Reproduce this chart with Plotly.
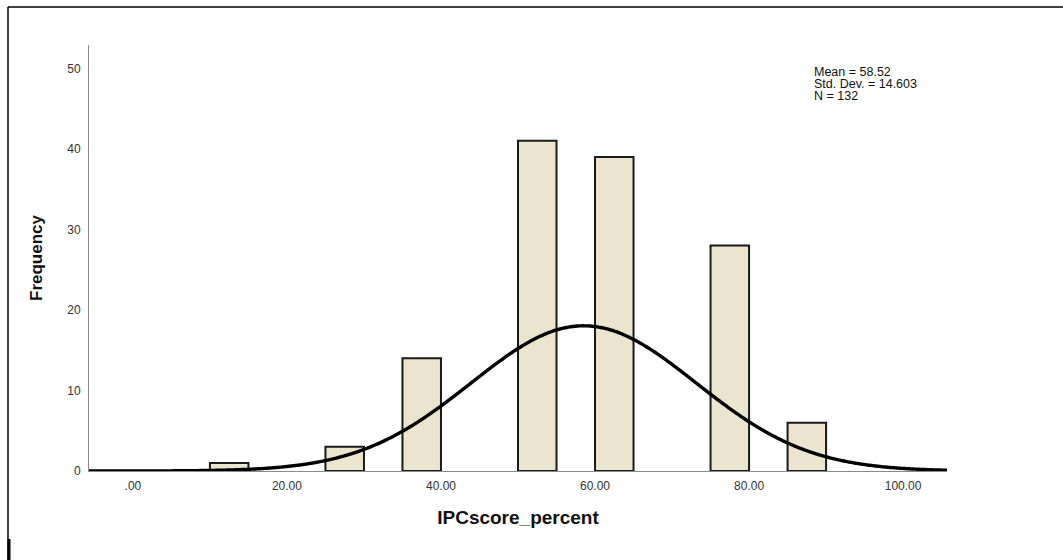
import numpy as np
import plotly.graph_objects as go

# Histogram data (bin start, bin end, frequency)
bin_starts = [10, 25, 35, 50, 60, 75, 85]
bin_ends = [15, 30, 40, 55, 65, 80, 90]
frequencies = [1, 3, 14, 41, 39, 28, 6]

x_tick_vals = [0, 20, 40, 60, 80, 100]
x_tick_text = [".00", "20.00", "40.00", "60.00", "80.00", "100.00"]
y_tick_vals = [0, 10, 20, 30, 40, 50]

mean_val = 58.52
std_val = 14.603
n_val = 132
bin_width = 5

x_range = [-5.7, 105.7]
y_range = [0, 52.9]

stats_lines = [f"Mean = {mean_val:.2f}", f"Std. Dev. = {std_val:.3f}", f"N = {n_val}"]

centers = [(a + b) / 2 for a, b in zip(bin_starts, bin_ends)]
widths = [b - a for a, b in zip(bin_starts, bin_ends)]

# Normal curve defined by the reported mean / SD / N
xc = np.linspace(x_range[0], x_range[1], 400)
yc = n_val * bin_width * np.exp(-0.5 * ((xc - mean_val) / std_val) ** 2) / (std_val * np.sqrt(2 * np.pi))

L, R, T, B = 89, 116, 45, 89
W, H = 1063, 560
pw = W - L - R
ph = H - T - B


def px_x(p):
    return (p - L) / pw


def px_y(p):
    return (H - B - p) / ph


fig = go.Figure()
fig.add_trace(go.Bar(
    x=centers, y=frequencies, width=widths,
    marker=dict(color="#ebe5cf", line=dict(color="#1a1a1a", width=2)),
    hoverinfo="x+y",
))
fig.add_trace(go.Scatter(
    x=xc, y=yc, mode="lines",
    line=dict(color="black", width=3.4, shape="spline"),
    hoverinfo="skip",
))

annotations = []
for i, line in enumerate(stats_lines):
    annotations.append(dict(
        x=px_x(812), y=px_y(72 + 12 * i), xref="paper", yref="paper", showarrow=False,
        text=line, align="left", xanchor="left", yanchor="middle",
        font=dict(size=12.5, color="#111111"),
    ))

fig.update_layout(
    width=W, height=H,
    margin=dict(l=L, r=R, t=T, b=B),
    paper_bgcolor="white", plot_bgcolor="white",
    showlegend=False,
    font=dict(family="Liberation Sans, Arial, sans-serif", color="#333333", size=12),
    xaxis=dict(
        range=x_range, tickvals=x_tick_vals, ticktext=x_tick_text,
        showgrid=False, zeroline=False, showline=True, linecolor="#8a8a8a", linewidth=1,
        ticks="outside", ticklen=4, tickcolor="rgba(0,0,0,0)",
        tickfont=dict(size=12, color="#333333"),
        title=dict(text="<b>IPCscore_percent</b>", font=dict(size=19, color="#111111"), standoff=18),
    ),
    yaxis=dict(
        range=y_range, tickvals=y_tick_vals,
        showgrid=False, zeroline=False, showline=True, linecolor="#8a8a8a", linewidth=1,
        ticks="outside", ticklen=5, tickcolor="rgba(0,0,0,0)",
        tickfont=dict(size=12, color="#333333"),
        title=dict(text="<b>Frequency</b>", font=dict(size=17, color="#111111"), standoff=20),
    ),
    annotations=annotations,
    shapes=[
        dict(type="line", xref="paper", yref="paper", x0=px_x(8), x1=px_x(1063), y0=px_y(7), y1=px_y(7),
             line=dict(color="black", width=1.5)),
        dict(type="line", xref="paper", yref="paper", x0=px_x(8), x1=px_x(8), y0=px_y(7), y1=px_y(560),
             line=dict(color="black", width=1.5)),
        dict(type="line", xref="paper", yref="paper", x0=px_x(9), x1=px_x(9), y0=px_y(539), y1=px_y(560),
             line=dict(color="black", width=3)),
    ],
)

fig.write_html("out.html")
